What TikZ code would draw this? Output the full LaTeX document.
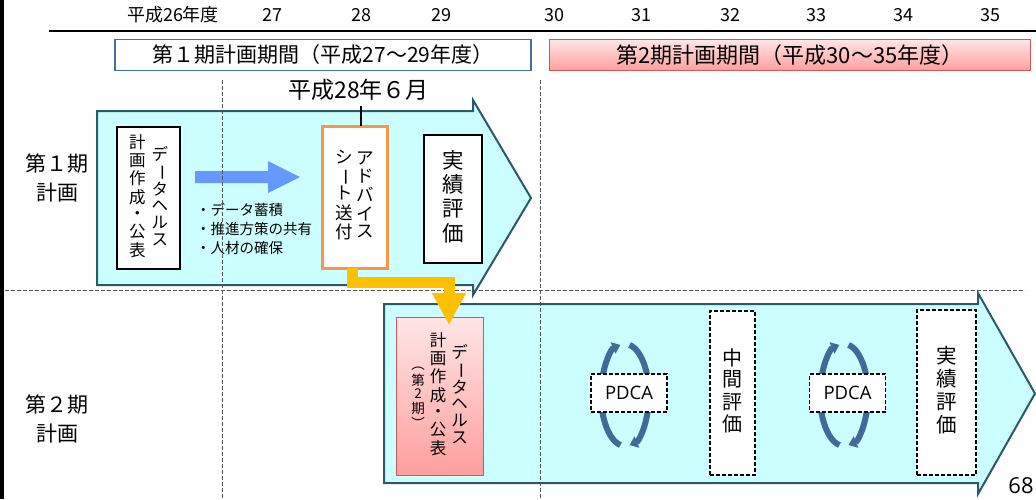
\documentclass[tikz,border=0pt]{standalone}
\usepackage{fontspec}
\usepackage{graphicx}
\setmainfont{Noto Sans CJK JP}
\newfontfamily\latinfont{Open Sans}
\usetikzlibrary{arrows.meta}
\definecolor{cyanfill}{HTML}{CCFFFF}
\definecolor{phaseline}{HTML}{2B5A66}
\definecolor{titleblue}{HTML}{41719C}
\definecolor{pinktop}{HTML}{FFE6E6}
\definecolor{pinkbot}{HTML}{FF9E9E}
\definecolor{pinkline}{HTML}{C8585A}
\definecolor{orangec}{HTML}{F79646}
\definecolor{goldc}{HTML}{FFC000}
\definecolor{fatblue}{HTML}{6699FF}
\definecolor{pdcablue}{HTML}{3F6A9A}
\definecolor{guidegray}{HTML}{555555}
\newcommand\vcol[1]{\begin{tabular}[c]{@{}c@{}}#1\end{tabular}}
\newcommand\vbar{\rotatebox[origin=c]{-90}{ー}}
\tikzset{
  phasearrow/.style={fill=cyanfill, draw=phaseline, line width=2pt, line join=miter},
  whitebox/.style={draw=black, fill=white, line width=1.2pt, inner sep=0pt, outer sep=0pt},
  dashbox/.style={draw=black, fill=white, line width=1.1pt, dash pattern=on 4pt off 2pt, inner sep=0pt, outer sep=0pt},
  pinkbox/.style={draw=pinkline, line width=1pt, top color=pinktop, bottom color=pinkbot, inner sep=0pt, outer sep=0pt},
  guideline/.style={draw=guidegray, line width=0.9pt, dash pattern=on 3.5pt off 2.5pt},
  yearlabel/.style={font=\fontsize{18}{18}\selectfont, inner sep=0pt},
  sidelabel/.style={font=\fontsize{21}{29}\selectfont, align=center, inner sep=0pt},
  pdcaarc/.style={draw=pdcablue, line width=6pt, -{Triangle[length=8pt,width=12pt]}},
  pdcabox/.style={dashbox, minimum width=76pt, minimum height=38pt, font=\latinfont\fontsize{18.5}{18.5}\selectfont},
}
\begin{document}
\begin{tikzpicture}[x=1pt,y=-1pt]
\useasboundingbox (0,0) rectangle (1036,499);
\fill[white] (0,0) rectangle (1036,499);
% left bar and top rule
\draw[line width=4pt] (2,0) -- (2,499);
\draw[line width=1.3pt] (49,31) -- (1036,31);
% year labels
\node[yearlabel] (y26) at (173,15) {平成26年度};
\node[yearlabel] (y27) at (272,15) {27};
\node[yearlabel] (y28) at (361,15) {28};
\node[yearlabel] (y29) at (441,15) {29};
\node[yearlabel] (y30) at (554,15) {30};
\node[yearlabel] (y31) at (641,15) {31};
\node[yearlabel] (y32) at (730,15) {32};
\node[yearlabel] (y33) at (816,15) {33};
\node[yearlabel] (y34) at (903,15) {34};
\node[yearlabel] (y35) at (990,15) {35};
% period title boxes
\node[draw=titleblue, line width=1.6pt, fill=white, minimum width=416pt, minimum height=31pt, inner sep=0pt, font=\fontsize{21}{21}\selectfont] (per1) at (323,55) {第１期計画期間（平成27〜29年度）};
\node[pinkbox, minimum width=481pt, minimum height=31pt, font=\fontsize{22}{22}\selectfont] (per2) at (790,55) {第2期計画期間（平成30〜35年度）};
% side labels
\node[sidelabel] (side1) at (57,178) {第１期\\計画};
\node[sidelabel] (side2) at (57,419) {第２期\\計画};
% phase arrows
\draw[phasearrow] (97,111) -- (473,111) -- (473,100) -- (531,198) -- (473,295) -- (473,285) -- (97,285) -- cycle;
\draw[phasearrow] (384,304) -- (978,304) -- (978,293) -- (1035,393.5) -- (978,494) -- (978,483) -- (384,483) -- cycle;
% blue fat arrow
\fill[fatblue] (195,171) -- (268,171) -- (268,161) -- (300,177) -- (268,193) -- (268,183) -- (195,183) -- cycle;
% bullets
\node[font=\fontsize{14.5}{19}\selectfont, align=left, inner sep=0pt, anchor=west] (bul) at (196,229) {・データ蓄積\\・推進方策の共有\\・人材の確保};
% guide lines
\draw[guideline] (222,80) -- (222,499);
\draw[guideline] (540,80) -- (540,499);
\draw[guideline] (5,290) -- (1025,290);
% phase 1 boxes
\node[whitebox, minimum width=63pt, minimum height=142pt, font=\fontsize{16.5}{16.2}\selectfont] (dh1) at (148.5,198)
  {\vcol{計\\画\\作\\成\\・\\公\\表}\hspace{6pt}\vcol{デ\\\vbar\\タ\\ヘ\\ル\\ス}};
\node[whitebox, draw=orangec, line width=3pt, minimum width=65pt, minimum height=142pt, font=\fontsize{17.5}{16.5}\selectfont] (adv) at (354.5,197)
  {\vcol{シ\\\vbar\\ト\\送\\付}\hspace{4pt}\vcol{ア\\ド\\バ\\イ\\ス}};
\node[whitebox, minimum width=58pt, minimum height=128pt, font=\fontsize{21.5}{21.5}\selectfont] (jis1) at (453,199)
  {\vcol{実\\績\\評\\価}};
% phase 2 boxes
\node[pinkbox, minimum width=87pt, minimum height=158pt, font=\fontsize{16.5}{16.2}\selectfont] (dh2) at (439.5,396)
  {{\fontsize{13.5}{12.5}\selectfont\vcol{︵\\第\\2\\期\\︶}}\hspace{5pt}\vcol{計\\画\\作\\成\\・\\公\\表}\hspace{5pt}\vcol{デ\\\vbar\\タ\\ヘ\\ル\\ス}};
\node[dashbox, minimum width=45pt, minimum height=164pt, font=\fontsize{20}{20}\selectfont] (chu) at (732.5,393)
  {\vcol{中\\間\\評\\価}};
\node[dashbox, minimum width=59pt, minimum height=165pt, font=\fontsize{20.5}{21}\selectfont] (jis2) at (946.5,392.5)
  {\vcol{実\\績\\評\\価}};
% PDCA cycles
\coordinate (c1) at (625,395);
\coordinate (c2) at (844,395);
\draw[pdcaarc] (c1) ++(101:24 and 51) arc[start angle=101, end angle=259, x radius=24, y radius=51];
\draw[pdcaarc] (c1) ++(-79:24 and 51) arc[start angle=-79, end angle=79, x radius=24, y radius=51];
\draw[pdcaarc] (c2) ++(101:24 and 51) arc[start angle=101, end angle=259, x radius=24, y radius=51];
\draw[pdcaarc] (c2) ++(-79:24 and 51) arc[start angle=-79, end angle=79, x radius=24, y radius=51];
\node[pdcabox] (pdca1) at (629,393) {PDCA};
\node[pdcabox] (pdca2) at (847.5,393) {PDCA};
% gold connector
\coordinate (gtip) at (449,325);
\draw[goldc, line width=11pt, line join=miter, -{Triangle[length=32pt,width=32pt]}] ([xshift=-2pt]adv.south) -- ++(0,14) -| (gtip);
% date label
\node[font=\fontsize{23}{23}\selectfont, inner sep=0pt] (d28) at (358.5,90) {平成28年６月};
\draw[line width=2.5pt] (361,106) coordinate (d28line) -- (d28line |- adv.north);
% page number
\node[font=\latinfont\fontsize{22}{22}\selectfont, inner sep=0pt] (pnum) at (1021,486) {68};
\end{tikzpicture}
\end{document}
